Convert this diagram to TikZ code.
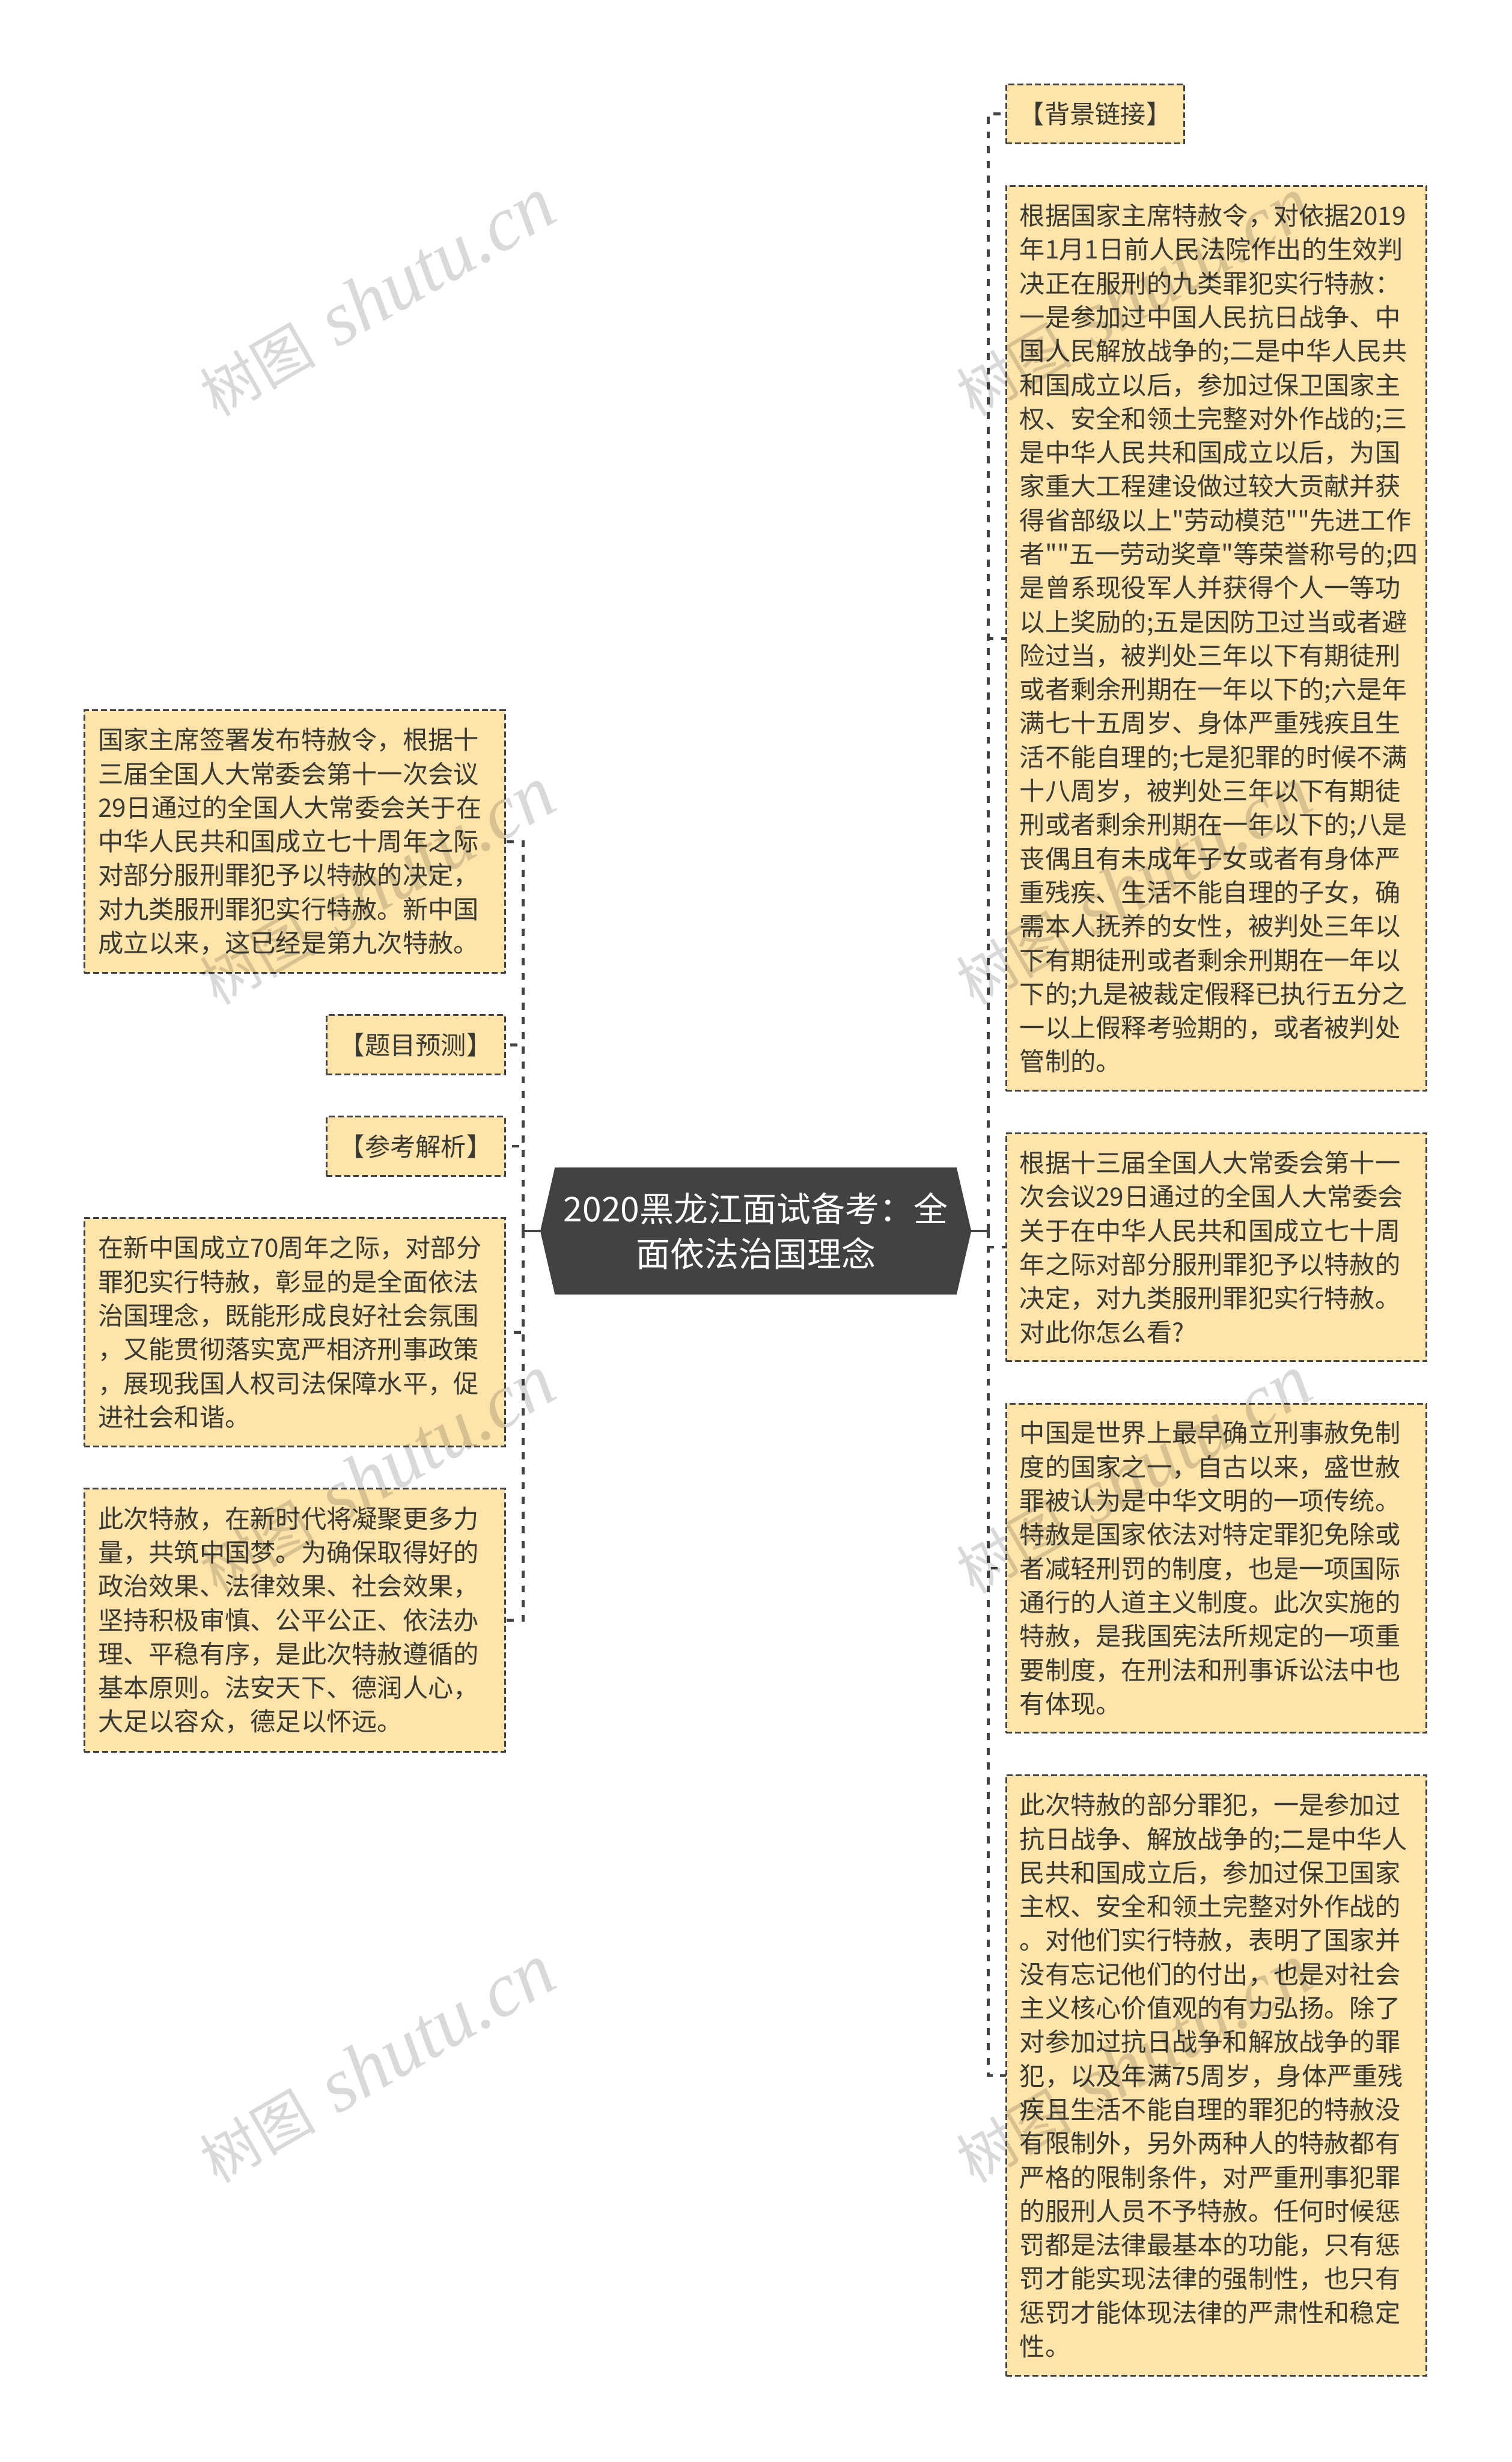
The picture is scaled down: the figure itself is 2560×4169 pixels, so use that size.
\documentclass[tikz,border=0pt]{standalone}
\usepackage{fontspec}
\usetikzlibrary{positioning, shapes.symbols}
\newfontfamily\cjk{Noto Sans CJK SC}
\newfontfamily\markfont{Liberation Serif}
\definecolor{leaffill}{HTML}{FEE3AA}
\definecolor{leaftext}{HTML}{3A3A32}
\definecolor{linecol}{HTML}{424242}

\begin{document}
\begin{tikzpicture}
    [x=0.5pt, y=-0.5pt, node distance=36pt,
    rootnode/.style={signal, signal to=east and west, signal pointer angle=154, fill=linecol, text=white, inner sep=0pt, outer sep=0pt, minimum width=365pt, minimum height=107.5pt, align=center, font=\cjk\fontsize{29}{38.5}\selectfont},
    leafnode/.style={rectangle, anchor=north west, fill=leaffill, draw=linecol, line width=1.5pt, dash pattern=on 5pt off 2.5pt, text=leaftext, inner xsep=11.5pt, inner ysep=0pt, outer sep=0pt, text width=333pt, align=left, font=\cjk\fontsize{21.5}{28.65}\selectfont},
    tagnode/.style={leafnode, text width=, minimum width=151pt, minimum height=50pt, inner xsep=0pt, align=center},
    rootline/.style={draw=linecol, line width=2.5pt},
    linkline/.style={draw=linecol, line width=2.5pt, dash pattern=on 6pt off 6.5pt},
    marknode/.style={anchor=base west, rotate=30, inner sep=0pt, text=black, opacity=0.15}]

    \useasboundingbox (0,0) rectangle (2560,4169);

    %Nodes
    \node[rootnode](root) at (1280,2084.5){2020黑龙江面试备考：全\\面依法治国理念};

    \node[tagnode](background) at (1704,143){【背景链接】};
    \node[leafnode, minimum height=766pt](pardon)[below=of background.south west, anchor=north west]{根据国家主席特赦令，对依据2019\\年1月1日前人民法院作出的生效判\\决正在服刑的九类罪犯实行特赦：\\一是参加过中国人民抗日战争、中\\国人民解放战争的;二是中华人民共\\和国成立以后，参加过保卫国家主\\权、安全和领土完整对外作战的;三\\是中华人民共和国成立以后，为国\\家重大工程建设做过较大贡献并获\\得省部级以上"劳动模范""先进工作\\者""五一劳动奖章"等荣誉称号的;四\\是曾系现役军人并获得个人一等功\\以上奖励的;五是因防卫过当或者避\\险过当，被判处三年以下有期徒刑\\或者剩余刑期在一年以下的;六是年\\满七十五周岁、身体严重残疾且生\\活不能自理的;七是犯罪的时候不满\\十八周岁，被判处三年以下有期徒\\刑或者剩余刑期在一年以下的;八是\\丧偶且有未成年子女或者有身体严\\重残疾、生活不能自理的子女，确\\需本人抚养的女性，被判处三年以\\下有期徒刑或者剩余刑期在一年以\\下的;九是被裁定假释已执行五分之\\一以上假释考验期的，或者被判处\\管制的。};
    \node[leafnode, minimum height=193pt](question)[below=of pardon.south west, anchor=north west]{根据十三届全国人大常委会第十一\\次会议29日通过的全国人大常委会\\关于在中华人民共和国成立七十周\\年之际对部分服刑罪犯予以特赦的\\决定，对九类服刑罪犯实行特赦。\\对此你怎么看?};
    \node[leafnode, minimum height=278.5pt](history)[below=of question.south west, anchor=north west]{中国是世界上最早确立刑事赦免制\\度的国家之一，自古以来，盛世赦\\罪被认为是中华文明的一项传统。\\特赦是国家依法对特定罪犯免除或\\者减轻刑罚的制度，也是一项国际\\通行的人道主义制度。此次实施的\\特赦，是我国宪法所规定的一项重\\要制度，在刑法和刑事诉讼法中也\\有体现。};
    \node[leafnode, minimum height=508.5pt](scope)[below=of history.south west, anchor=north west]{此次特赦的部分罪犯，一是参加过\\抗日战争、解放战争的;二是中华人\\民共和国成立后，参加过保卫国家\\主权、安全和领土完整对外作战的\\。对他们实行特赦，表明了国家并\\没有忘记他们的付出，也是对社会\\主义核心价值观的有力弘扬。除了\\对参加过抗日战争和解放战争的罪\\犯，以及年满75周岁，身体严重残\\疾且生活不能自理的罪犯的特赦没\\有限制外，另外两种人的特赦都有\\严格的限制条件，对严重刑事犯罪\\的服刑人员不予特赦。任何时候惩\\罚都是法律最基本的功能，只有惩\\罚才能实现法律的强制性，也只有\\惩罚才能体现法律的严肃性和稳定\\性。};

    \node[leafnode, minimum height=222pt](decree) at (143,1203){国家主席签署发布特赦令，根据十\\三届全国人大常委会第十一次会议\\29日通过的全国人大常委会关于在\\中华人民共和国成立七十周年之际\\对部分服刑罪犯予以特赦的决定，\\对九类服刑罪犯实行特赦。新中国\\成立以来，这已经是第九次特赦。};
    \node[tagnode](forecast)[below=of decree.south east, anchor=north east]{【题目预测】};
    \node[tagnode](analysis)[below=of forecast.south east, anchor=north east]{【参考解析】};
    \node[leafnode, minimum height=193pt](concept)[below=of analysis.south east, anchor=north east]{在新中国成立70周年之际，对部分\\罪犯实行特赦，彰显的是全面依法\\治国理念，既能形成良好社会氛围\\，又能贯彻落实宽严相济刑事政策\\，展现我国人权司法保障水平，促\\进社会和谐。};
    \node[leafnode, minimum height=222.5pt](principle)[below=of concept.south east, anchor=north east]{此次特赦，在新时代将凝聚更多力\\量，共筑中国梦。为确保取得好的\\政治效果、法律效果、社会效果，\\坚持积极审慎、公平公正、依法办\\理、平稳有序，是此次特赦遵循的\\基本原则。法安天下、德润人心，\\大足以容众，德足以怀远。};

    \coordinate(trunkright) at (1674,2084.5);
    \coordinate(trunkleft) at (886,2084.5);

    %Lines
    \draw[rootline](root.east)--(trunkright);
    \draw[rootline](root.west)--(trunkleft);

    \draw[linkline](trunkright)|-(background.west);
    \draw[linkline](trunkright)|-(pardon.west);
    \draw[linkline](trunkright)|-(question.west);
    \draw[linkline](trunkright)|-(history.west);
    \draw[linkline](trunkright)|-(scope.west);

    \draw[linkline](trunkleft)|-(decree.east);
    \draw[linkline](trunkleft)|-(forecast.east);
    \draw[linkline](trunkleft)|-(analysis.east);
    \draw[linkline](trunkleft)|-(concept.east);
    \draw[linkline](trunkleft)|-(principle.east);

    %Watermark
    \foreach \col in {0,1}
        \foreach \row in {0,1,2,3}
            \node[marknode](mark\col\row) at (368+1281*\col,707+997*\row){{\cjk\fontsize{49}{49}\selectfont 树图}\hspace{19pt}{\markfont\itshape\fontsize{65}{65}\selectfont shutu.cn}};
\end{tikzpicture}
\end{document}
